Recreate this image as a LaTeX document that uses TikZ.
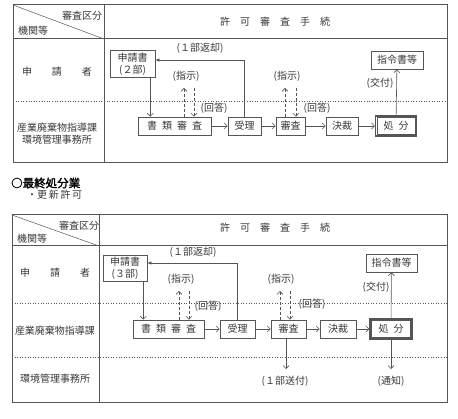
\documentclass[tikz,border=0pt]{standalone}
\usepackage{fontspec}
\newfontfamily\jp[AutoFakeBold=2]{Noto Sans CJK JP}
\usetikzlibrary{arrows.meta, positioning}
\definecolor{LineGray}{RGB}{85,85,85}
\definecolor{TextGray}{RGB}{55,55,55}
\newcommand{\gap}{\hspace{.5em}}

\begin{document}
\begin{tikzpicture}[x=1pt, y=-1pt,
    every node/.style={font=\jp\fontsize{10}{12}\selectfont, text=TextGray, inner sep=1pt},
    stepbox/.style={draw=LineGray, line width=0.7pt, minimum height=18pt, inner sep=2pt},
    endbox/.style={stepbox, line width=1.3pt},
    flow/.style={draw=LineGray, line width=0.6pt, -{Straight Barb[length=3pt,width=6pt]}},
    ask/.style={flow, dash pattern=on 3pt off 2pt},
    back/.style={draw=LineGray, line width=0.6pt, -{Latex[length=4pt,width=3.5pt]}},
    frame/.style={draw=LineGray, line width=1pt},
    lane/.style={draw=LineGray, line width=0.6pt, dotted}]
    \useasboundingbox (0,0) rectangle (458,419);

    % Table (upper)
    \draw[frame] (13,5) rectangle (447,163);
    \draw[frame] (13,39) -- (447,39);
    \draw[frame] (104,5) -- (104,163);
    \draw[draw=LineGray, line width=0.5pt] (13,5) -- (104,39);
    \draw[lane] (13,101) -- (447,101);

    % Headers (upper)
    \node (kubunA) at (82,16) {審査区分};
    \node (kikanA) at (33,31) {機関等};
    \node (tetsuzukiA) at (275,22) {許　可　審　査　手　続};
    \node (shinseishaA) at (57,72) {申　　請　　者};
    \node[align=center] (shidoA) at (57,134) {産業廃棄物指導課\\環境管理事務所};

    % Steps (upper)
    \node[stepbox, align=center, minimum width=45pt, minimum height=25pt] (shinseiA) at (132.5,64) {申請書\\(２部)};
    \node[stepbox, minimum width=73pt] (shoruiA) at (174.5,126) {書\gap 類\gap 審\gap 査};
    \node[stepbox, minimum width=33pt] (juriA) at (244.5,126) {受理};
    \node[stepbox, minimum width=29pt] (shinsaA) at (290.5,126) {審査};
    \node[stepbox, minimum width=32pt] (kessaiA) at (342,126) {決裁};
    \node[endbox, minimum width=41pt, minimum height=20pt] (shobunA) at (396,126) {処\gap 分};
    \draw[draw=LineGray, line width=0.5pt] ([shift={(2pt,-2pt)}]shobunA.north west) rectangle ([shift={(-2pt,2pt)}]shobunA.south east);
    \node[stepbox, minimum width=52pt] (shireiA) at (397,60) {指令書等};

    % Flow (upper)
    \draw[flow] ([xshift=-5pt]shinseiA.south east) -- ([xshift=-5pt]shinseiA.south east |- shoruiA.north);
    \draw[flow] (shoruiA) -- (juriA);
    \draw[flow] (juriA) -- (shinsaA);
    \draw[flow] (shinsaA) -- (kessaiA);
    \draw[flow] (kessaiA) -- (shobunA);
    \draw[flow] (shobunA) -- (shireiA);
    \draw[back] (juriA.north) |- ([yshift=4pt]shinseiA.east);
    \node (henkyakuA) at (200,48) {(１部返却)};
    \node (kofuA) at (380,83) {(交付)};

    % Instructions (upper)
    \coordinate (upA1) at (184,88);
    \coordinate (dnA1) at (194,88);
    \coordinate (upA2) at (285,88);
    \coordinate (dnA2) at (296,88);
    \draw[ask] (shoruiA.north -| upA1) -- (upA1);
    \draw[ask] (dnA1) -- (dnA1 |- shoruiA.north);
    \draw[ask] (shinsaA.north -| upA2) -- (upA2);
    \draw[ask] (dnA2) -- (dnA2 |- shinsaA.north);
    \node (shijiA1) at (186,76) {(指示)};
    \node (kaitoA1) at (214,108) {(回答)};
    \node (shijiA2) at (287,76) {(指示)};
    \node (kaitoA2) at (317,108) {(回答)};

    % Heading
    \node[anchor=west, text=black, font=\jp\bfseries\fontsize{11.5}{13}\selectfont] (gyoshu) at (10,183) {○最終処分業};
    \node[anchor=west] (koshin) at (26,195) {・更\,新\,許\,可};

    % Table (lower)
    \draw[frame] (12,215) rectangle (447,403);
    \draw[frame] (12,246) -- (447,246);
    \draw[frame] (99,215) -- (99,403);
    \draw[draw=LineGray, line width=0.5pt] (12,215) -- (99,246);
    \draw[lane] (12,303) -- (447,303);
    \draw[lane] (12,357) -- (447,357);

    % Headers (lower)
    \node (kubunB) at (79,226) {審査区分};
    \node (kikanB) at (32,239) {機関等};
    \node (tetsuzukiB) at (275,228) {許　可　審　査　手　続};
    \node (shinseishaB) at (55,273) {申　　請　　者};
    \node (shidoB) at (55,331) {産業廃棄物指導課};
    \node (jimushoB) at (55,379) {環境管理事務所};

    % Steps (lower)
    \node[stepbox, align=center, minimum width=44pt, minimum height=25pt] (shinseiB) at (125,268.5) {申請書\\(３部)};
    \node[stepbox, minimum width=71pt] (shoruiB) at (168.5,329) {書\gap 類\gap 審\gap 査};
    \node[stepbox, minimum width=35pt] (juriB) at (237.5,329) {受理};
    \node[stepbox, minimum width=35pt] (shinsaB) at (288.5,329) {審査};
    \node[stepbox, minimum width=36pt] (kessaiB) at (338,329) {決裁};
    \node[endbox, minimum width=42pt, minimum height=20pt] (shobunB) at (391,329) {処\gap 分};
    \draw[draw=LineGray, line width=0.5pt] ([shift={(2pt,-2pt)}]shobunB.north west) rectangle ([shift={(-2pt,2pt)}]shobunB.south east);
    \node[stepbox, minimum width=51pt] (shireiB) at (391.5,263) {指令書等};

    % Flow (lower)
    \draw[flow] ([xshift=-4pt]shinseiB.south east) -- ([xshift=-4pt]shinseiB.south east |- shoruiB.north);
    \draw[flow] (shoruiB) -- (juriB);
    \draw[flow] (juriB) -- (shinsaB);
    \draw[flow] (shinsaB) -- (kessaiB);
    \draw[flow] (kessaiB) -- (shobunB);
    \draw[flow] (shobunB) -- (shireiB);
    \draw[back] (juriB.north) |- ([yshift=5.5pt]shinseiB.east);
    \node (henkyakuB) at (193,252) {(１部返却)};
    \node (kofuB) at (376,287) {(交付)};

    % Instructions (lower)
    \coordinate (upB1) at (179,291);
    \coordinate (dnB1) at (189,291);
    \coordinate (upB2) at (280,291);
    \coordinate (dnB2) at (290,291);
    \draw[ask] (shoruiB.north -| upB1) -- (upB1);
    \draw[ask] (dnB1) -- (dnB1 |- shoruiB.north);
    \draw[ask] (shinsaB.north -| upB2) -- (upB2);
    \draw[ask] (dnB2) -- (dnB2 |- shinsaB.north);
    \node (shijiB1) at (181,279) {(指示)};
    \node (kaitoB1) at (208,306) {(回答)};
    \node (shijiB2) at (281,279) {(指示)};
    \node (kaitoB2) at (312,304) {(回答)};

    % Notices (lower)
    \coordinate (soufuEnd) at (286,369);
    \coordinate (tsuchiEnd) at (391,369);
    \draw[flow] (shinsaB.south -| soufuEnd) -- (soufuEnd);
    \draw[flow] (shobunB.south -| tsuchiEnd) -- (tsuchiEnd);
    \node (soufuB) at (285,381) {(１部送付)};
    \node (tsuchiB) at (391,381) {(通知)};
  \end{tikzpicture}
\end{document}
